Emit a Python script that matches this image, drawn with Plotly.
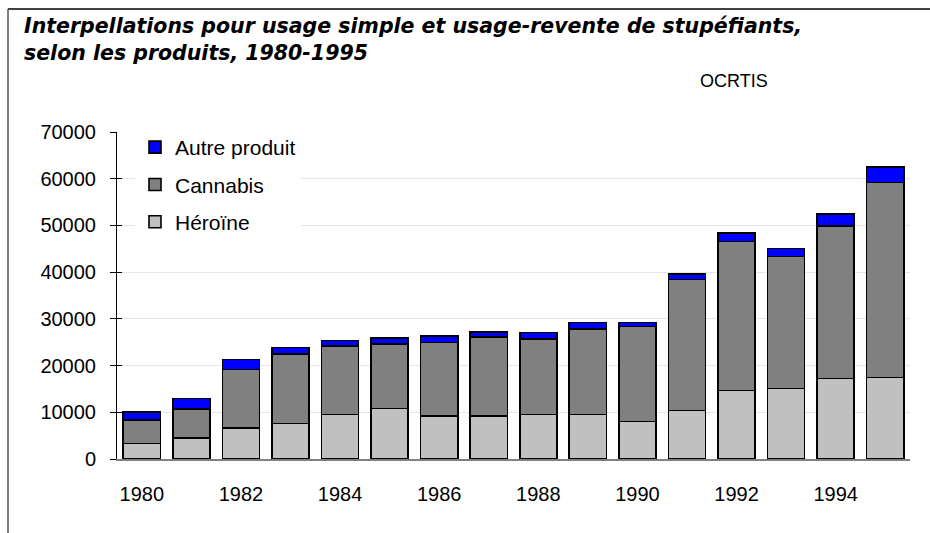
import plotly.graph_objects as go

years = list(range(1980, 1996))
heroine = [3360, 4560, 6700, 7560, 9560, 10850, 9200, 9200, 9560, 9560, 7990, 10420, 14630, 15060, 17200, 17480]
cannabis = [4990, 6140, 12420, 14920, 14630, 13770, 15770, 16980, 16130, 18270, 20340, 27970, 31970, 28250, 32680, 41670]
autre = [1710, 2290, 2220, 1350, 1210, 1280, 1360, 1010, 1360, 1430, 930, 1210, 1780, 1790, 2570, 3360]

series = [
    ("Héroïne", heroine, "#C0C0C0", 3),
    ("Cannabis", cannabis, "#808080", 2),
    ("Autre produit", autre, "#0000FF", 1),
]

FONT = "Liberation Sans, Arial, sans-serif"
TFONT = "DejaVu Sans, Liberation Sans, sans-serif"

fig = go.Figure()
for name, vals, col, rank in series:
    fig.add_trace(go.Bar(
        x=years, y=vals, name=name, legendgroup=name, legendrank=rank,
        marker=dict(color=col, line=dict(color="black", width=1.6)),
    ))

W, H = 930, 533
L, R, T, B = 117, 20, 132, 74
pw, ph = W - L - R, H - T - B

def px(x):
    return (x - L) / pw

def py(y):
    return (H - B - y) / ph

fig.update_layout(
    width=W, height=H,
    margin=dict(l=L, r=R, t=T, b=B, pad=0),
    paper_bgcolor="white", plot_bgcolor="white",
    barmode="stack", bargap=0.25,
    font=dict(family=FONT, size=20, color="black"),
    showlegend=True,
    legend=dict(
        x=px(135), y=py(127), xanchor="left", yanchor="top",
        bgcolor="white", font=dict(size=21, family=FONT, color="black"),
        traceorder="grouped", tracegroupgap=7,
    ),
    xaxis=dict(
        range=[1979.5, 1995.5], tickmode="linear", tick0=1980, dtick=2,
        showgrid=False, showline=True, linecolor="#808080", linewidth=1.5,
        ticks="", ticklabelstandoff=16, tickfont=dict(size=20),
        zeroline=False,
    ),
    yaxis=dict(
        range=[0, 70000], tickmode="linear", tick0=0, dtick=10000, tickformat="d",
        showgrid=True, gridcolor="#E6E6E6", gridwidth=1.2,
        showline=True, linecolor="black", linewidth=1,
        ticks="outside", ticklen=6, tickcolor="black", tickwidth=1,
        ticklabelstandoff=10, tickfont=dict(size=20), zeroline=False,
    ),
    yaxis2=dict(
        range=[0, 70000], tickmode="linear", tick0=0, dtick=10000,
        overlaying="y", side="left", showgrid=False, showline=False,
        ticks="inside", ticklen=5, tickcolor="black", tickwidth=1,
        showticklabels=False, zeroline=False,
    ),
    annotations=[
        dict(text="<b><i>Interpellations pour usage simple et usage-revente de stupéfiants,</i></b>",
             xref="paper", yref="paper", x=px(22), y=py(26), xanchor="left", yanchor="middle",
             showarrow=False, font=dict(size=20.5, family=TFONT, color="black")),
        dict(text="<b><i>selon les produits, 1980-1995</i></b>",
             xref="paper", yref="paper", x=px(22), y=py(53), xanchor="left", yanchor="middle",
             showarrow=False, font=dict(size=20.5, family=TFONT, color="black")),
        dict(text="OCRTIS",
             xref="paper", yref="paper", x=px(734), y=py(81), xanchor="center", yanchor="middle",
             showarrow=False, font=dict(size=18, family=FONT, color="black")),
    ],
    shapes=[
        dict(type="line", xref="paper", yref="paper", x0=px(8), x1=px(931), y0=py(9), y1=py(9),
             line=dict(color="black", width=1.5)),
        dict(type="line", xref="paper", yref="paper", x0=px(8), x1=px(8), y0=py(9), y1=py(534),
             line=dict(color="#555555", width=1.5)),
    ],
)

# invisible trace activating yaxis2 (gives crossing tick marks on the value axis)
fig.add_trace(go.Scatter(x=[years[0]], y=[0], yaxis="y2", mode="markers",
                         marker=dict(opacity=0), showlegend=False, hoverinfo="skip"))

fig.write_html("out.html", config={"displayModeBar": False},
               post_script="document.body.style.margin='0';")
